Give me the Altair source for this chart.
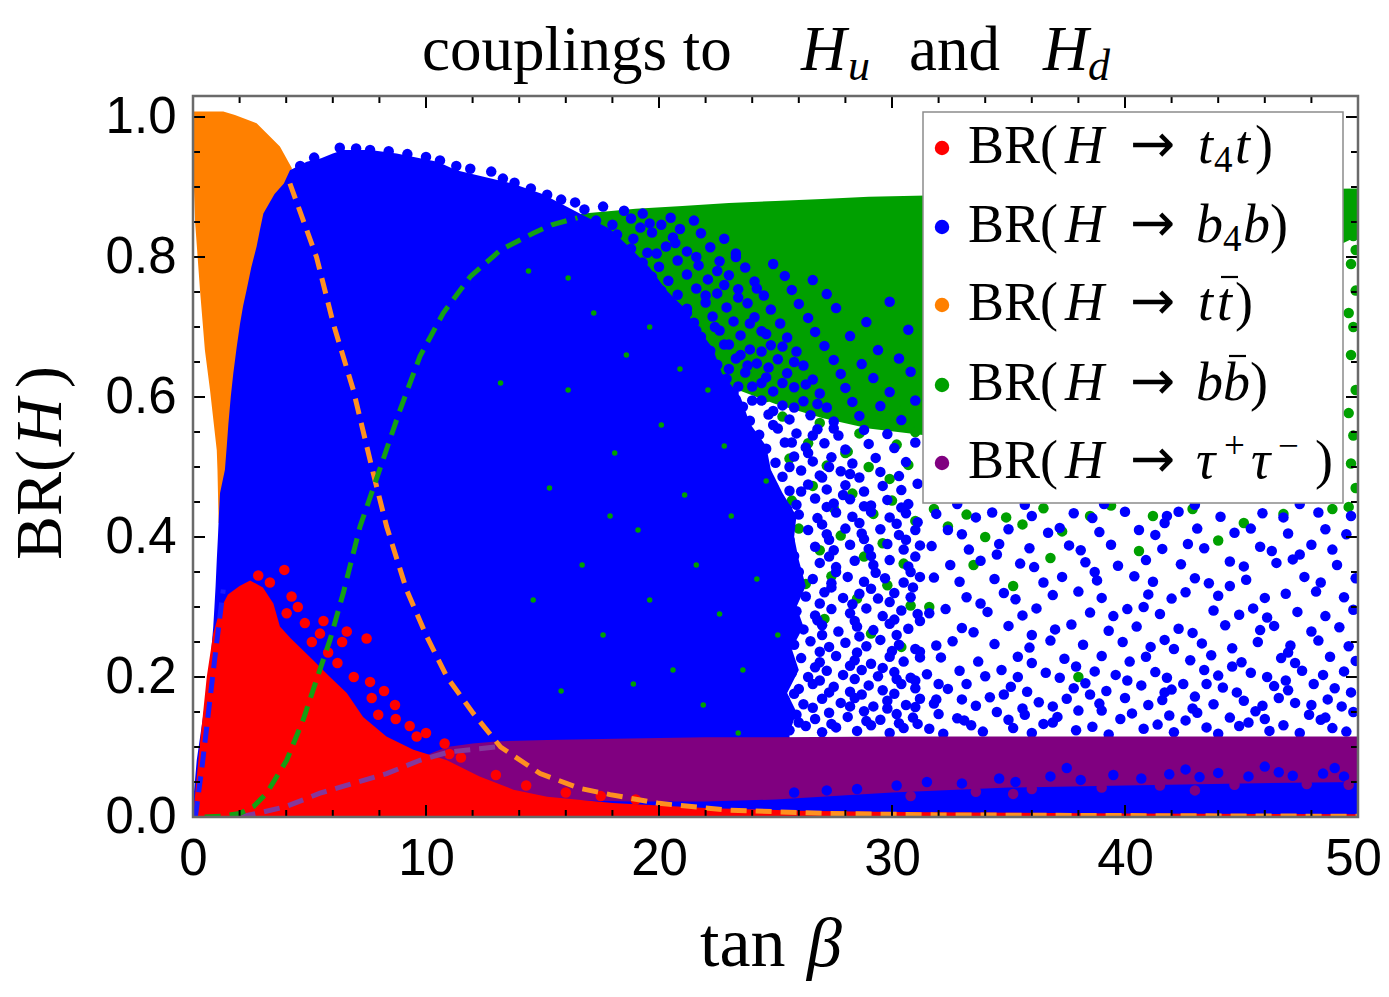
import altair as alt
import pandas as pd

# ---------------- data ----------------
orange_y  = [0.420, 0.450, 0.496, 0.524, 0.610, 0.667, 0.753, 0.850, 0.910, 0.927, 0.958, 0.991, 1.003, 1.008]
orange_xl = [1.10, 1.08, 1.05, 1.02, 0.73, 0.51, 0.30, 0.09, 0.03, 0.00, 0.00, 0.00, 0.00, 0.00]
orange_xr = [1.16, 1.30, 1.50, 1.60, 2.00, 2.20, 2.50, 3.10, 4.20, 4.24, 3.73, 2.73, 1.80, 1.30]

blue_y  = [0.000, 0.020, 0.081, 0.120, 0.150, 0.177, 0.210, 0.240, 0.272, 0.300, 0.330, 0.367, 0.400, 0.430, 0.463, 0.496, 0.530, 0.562,
           0.600, 0.634, 0.670, 0.705, 0.730, 0.753, 0.785, 0.815, 0.840, 0.862, 0.890, 0.905, 0.924, 0.936, 0.941, 0.948, 0.953]
blue_xl = [0.00, 0.00, 0.16, 0.33, 0.46, 0.59, 0.70, 0.79, 0.87, 0.92, 0.97, 1.02, 1.07, 1.11, 1.16, 1.37, 1.45, 1.52,
           1.62, 1.73, 1.87, 2.02, 2.15, 2.30, 2.50, 2.73, 2.88, 3.02, 3.50, 3.90, 4.16, 4.88, 5.50, 6.00, 6.45]
blue_xr = [25.4, 25.4, 25.6, 25.6, 25.9, 25.5, 26.0, 25.7, 26.2, 25.9, 26.3, 26.0, 25.8, 25.9, 25.3, 24.8, 24.6, 23.9,
           23.5, 22.7, 22.3, 21.5, 21.0, 20.3, 19.6, 18.7, 17.9, 16.6, 15.0, 13.7, 11.3, 10.5, 9.74, 8.74, 7.6]

green_x  = [13.5, 14.5, 15.5, 17.0, 19.0, 21.0, 23.0, 25.0, 27.0, 29.0, 31.5, 35.0, 40.0, 45.0, 50.0]
green_hi = [0.840, 0.850, 0.857, 0.863, 0.869, 0.873, 0.877, 0.880, 0.883, 0.886, 0.888, 0.891, 0.894, 0.896, 0.898]
green_lo = [0.840, 0.815, 0.790, 0.745, 0.690, 0.650, 0.615, 0.590, 0.570, 0.555, 0.545, 0.560, 0.620, 0.750, 0.830]

red_x   = [0.0, 0.3, 0.59, 0.87, 1.16, 1.5, 2.0, 2.45, 3.0, 3.45, 3.73, 4.2, 5.16, 5.88, 6.6, 7.3, 8.3, 9.46, 10.9, 12.3, 13.75, 15.2, 18.0, 22.0, 26.0, 30.0, 40.0, 50.0]
red_top = [0.0, 0.105, 0.2, 0.262, 0.296, 0.318, 0.33, 0.338, 0.328, 0.305, 0.272, 0.255, 0.224, 0.2, 0.177, 0.143, 0.115, 0.096, 0.081, 0.058, 0.039, 0.029, 0.02, 0.013, 0.009, 0.007, 0.005, 0.004]

purple_x  = [8.3, 9.0, 9.7, 10.3, 10.9, 12.0, 13.0, 15.2, 18.75, 22.0, 25.0, 30.0, 35.0, 40.0, 45.0, 50.0]
purple_hi = [0.062, 0.074, 0.083, 0.092, 0.100, 0.105, 0.108, 0.110, 0.112, 0.114, 0.114, 0.115, 0.115, 0.115, 0.115, 0.115]
purple_lo = [0.055, 0.050, 0.045, 0.040, 0.035, 0.030, 0.028, 0.025, 0.022, 0.022, 0.025, 0.035, 0.042, 0.045, 0.048, 0.050]

bstrip_x  = [19.0, 22.0, 25.0, 30.0, 35.0, 40.0, 45.0, 50.0]
bstrip_hi = [0.012, 0.020, 0.030, 0.040, 0.047, 0.052, 0.055, 0.058]
bstrip_lo = [0.003, 0.003, 0.003, 0.003, 0.003, 0.003, 0.003, 0.003]

blue_top_pts = [(4.6,0.93),(5.2,0.942),(6.3,0.956),(7.0,0.955),(7.6,0.953),(8.4,0.951),(9.2,0.947),(10.0,0.943),
                (10.6,0.938),(11.3,0.93),(11.9,0.926),(12.8,0.922),(13.3,0.912),(13.8,0.906),(14.5,0.898),(15.2,0.889),
                (15.8,0.882),(16.4,0.878)]

blue_mix_upper = [
 (25.2,0.452),(25.9,0.446),(26.7,0.455),(27.5,0.448),(28.2,0.454),(29.1,0.445),(29.8,0.453),(30.7,0.447),
 (24.9,0.472),(25.6,0.466),(26.4,0.475),(27.2,0.468),(28.0,0.474),(28.8,0.465),(29.6,0.473),(30.4,0.467),(31.1,0.476),
 (24.6,0.492),(25.3,0.486),(26.1,0.495),(26.9,0.488),(27.8,0.494),(28.6,0.485),(29.5,0.493),(30.3,0.487),
 (24.2,0.512),(25.0,0.506),(25.8,0.515),(26.6,0.508),(27.4,0.514),(28.3,0.505),(29.3,0.513),(30.6,0.507),
 (23.9,0.532),(24.6,0.526),(25.4,0.535),(26.3,0.528),(27.1,0.534),(28.0,0.525),(29.0,0.533),(30.1,0.527),(31.0,0.535),
 (23.5,0.552),(24.3,0.546),(25.1,0.555),(25.9,0.548),(26.8,0.554),(27.7,0.545),(28.8,0.553),(29.8,0.547),
 (23.2,0.572),(23.9,0.566),(24.7,0.575),(25.6,0.568),(26.5,0.574),(27.5,0.565),(28.6,0.573),(30.4,0.567),
 (22.8,0.592),(23.6,0.586),(24.4,0.595),(25.3,0.588),(26.2,0.594),(27.2,0.585),(28.3,0.593),(29.5,0.587),(31.0,0.595),
 (22.5,0.612),(23.2,0.606),(24.0,0.615),(24.9,0.608),(25.8,0.614),(26.9,0.605),(28.0,0.613),(29.9,0.607),
 (22.1,0.632),(22.9,0.626),(23.7,0.635),(24.6,0.628),(25.5,0.634),(26.6,0.625),(27.8,0.633),(29.2,0.627),(30.8,0.636),
 (21.8,0.652),(22.5,0.646),(23.3,0.655),(24.2,0.648),(25.1,0.654),(26.2,0.645),(27.5,0.653),(28.7,0.647),(30.3,0.655),
 (21.5,0.672),(22.2,0.666),(23.0,0.675),(23.9,0.668),(24.8,0.674),(25.9,0.665),(27.1,0.673),(29.4,0.667),
 (21.1,0.692),(21.8,0.686),(22.6,0.695),(23.5,0.688),(24.4,0.694),(25.5,0.685),(26.7,0.693),(28.2,0.687),(30.7,0.696),
 (20.8,0.712),(21.5,0.706),(22.3,0.715),(23.2,0.708),(24.1,0.714),(25.2,0.705),(26.4,0.713),(28.9,0.707),
 (20.5,0.732),(21.2,0.726),(22.0,0.735),(22.9,0.728),(23.8,0.734),(24.8,0.725),(26.0,0.733),(27.6,0.727),(29.9,0.736),
 (20.1,0.752),(20.8,0.746),(21.6,0.755),(22.5,0.748),(23.4,0.754),(24.5,0.745),(25.7,0.753),(27.2,0.747),
 (19.7,0.772),(20.4,0.766),(21.2,0.775),(22.1,0.768),(23.0,0.774),(24.1,0.765),(25.4,0.773),(26.6,0.767),
 (19.3,0.792),(20.0,0.786),(20.8,0.795),(21.7,0.788),(22.6,0.794),(23.7,0.785),(24.9,0.79),
 (18.8,0.812),(19.5,0.806),(20.3,0.815),(21.2,0.808),(22.2,0.814),(23.3,0.805),
 (18.2,0.832),(18.9,0.826),(19.7,0.835),(20.6,0.828),(20.9,0.84),(21.8,0.834),(22.8,0.826),
 (17.3,0.852),(18.0,0.846),(18.8,0.855),(19.6,0.848),(20.5,0.856),
 (16.8,0.868),(17.6,0.872),(18.5,0.866),(19.3,0.862)]

blue_upper_extra = [
 (21.2,0.72),(22.0,0.745),(22.8,0.76),(23.4,0.742),(24.2,0.755),(21.6,0.695),(22.4,0.7),(23.9,0.705),(24.6,0.69),
 (22.8,0.675),(23.5,0.66),(24.4,0.665),(25.3,0.672),(23.0,0.64),(23.8,0.645),(24.7,0.642),(25.8,0.65),(23.4,0.615),
 (24.4,0.62),(25.3,0.62),(26.3,0.618),(24.0,0.595),(24.9,0.58),(25.8,0.585),(26.8,0.59),(24.9,0.56),(25.7,0.535),
 (26.6,0.545),(27.5,0.555),(25.6,0.5),(26.4,0.52),(27.3,0.5),(28.2,0.49),(26.1,0.465),(27.0,0.485),(27.9,0.46),
 (19.9,0.805),(20.7,0.82),(21.6,0.8),(22.5,0.78),(23.3,0.8),(19.2,0.842),(20.1,0.846),(21.5,0.852)]

blue_mix_lower = [
 (25.6,0.124),(26.3,0.13),(27.0,0.121),(27.6,0.128),(28.5,0.123),(29.1,0.131),(29.9,0.12),(30.5,0.127),(31.1,0.133),
 (25.9,0.146),(26.7,0.14),(27.3,0.149),(28.1,0.143),(28.8,0.151),(29.5,0.139),(30.2,0.147),(30.9,0.142),
 (25.4,0.167),(26.2,0.161),(27.0,0.169),(27.8,0.163),(28.4,0.17),(29.2,0.158),(29.8,0.166),(30.6,0.16),(31.2,0.169),
 (26.0,0.183),(26.6,0.19),(27.5,0.186),(28.2,0.179),(29.0,0.188),(29.6,0.181),(30.4,0.19),(31.0,0.184),
 (25.7,0.206),(26.4,0.2),(27.2,0.209),(27.9,0.203),(28.7,0.21),(29.4,0.201),(30.1,0.207),(30.8,0.199),
 (26.1,0.227),(26.9,0.221),(27.6,0.23),(28.4,0.224),(29.1,0.219),(29.9,0.229),(30.5,0.222),(31.2,0.228),
 (25.8,0.246),(26.5,0.251),(27.3,0.243),(28.0,0.249),(28.9,0.244),(29.5,0.253),(30.3,0.246),(31.0,0.24),
 (26.2,0.268),(27.0,0.274),(27.7,0.265),(28.5,0.272),(29.2,0.267),(29.9,0.276),(30.7,0.269),
 (25.9,0.294),(26.7,0.288),(27.4,0.297),(28.2,0.291),(28.9,0.298),(29.6,0.287),(30.4,0.295),(31.1,0.29),
 (26.3,0.315),(27.1,0.321),(27.9,0.313),(28.6,0.319),(29.4,0.312),(30.1,0.32),(30.8,0.314),
 (26.6,0.34),(27.4,0.334),(28.1,0.343),(28.8,0.336),(29.7,0.341),(30.5,0.335),(31.2,0.343),
 (26.9,0.363),(27.6,0.357),(28.4,0.366),(29.2,0.36),(29.9,0.367),(30.7,0.358),
 (26.7,0.386),(27.5,0.381),(28.2,0.389),(29.0,0.383),(29.8,0.39),(30.5,0.382),(31.2,0.388),
 (26.4,0.41),(27.2,0.404),(28.0,0.412),(28.7,0.405),(29.5,0.411),(30.3,0.403),(31.0,0.41),
 (26.0,0.432),(26.8,0.427),(27.6,0.435),(28.3,0.429),(29.1,0.436),(29.9,0.428),(30.6,0.434)]

blue_lower_extra = [
 (26.0,0.135),(27.4,0.133),(28.9,0.137),(30.3,0.134),(25.3,0.155),(26.6,0.156),(28.2,0.158),(29.8,0.155),(31.0,0.157),
 (25.8,0.176),(27.3,0.178),(28.7,0.175),(30.1,0.176),(25.5,0.196),(26.9,0.195),(28.4,0.197),(30.2,0.197),(31.0,0.195),
 (25.4,0.217),(26.7,0.214),(28.2,0.216),(29.6,0.213),(25.4,0.236),(26.9,0.236),(28.5,0.235),(30.0,0.237),(31.2,0.236),
 (25.6,0.259),(27.0,0.26),(28.6,0.258),(30.2,0.26),(25.5,0.28),(26.8,0.281),(28.4,0.28),(30.1,0.282),(31.2,0.28),
 (25.4,0.305),(26.9,0.305),(28.3,0.304),(29.9,0.307),(25.9,0.327),(27.4,0.328),(29.1,0.326),(30.9,0.328),
 (26.0,0.35),(27.6,0.35),(29.3,0.349),(30.8,0.35),(25.8,0.373),(27.3,0.372),(29.1,0.373),(31.0,0.372),
 (25.6,0.396),(27.3,0.396),(28.8,0.397),(30.6,0.396),(25.6,0.42),(27.0,0.418),(28.6,0.42),(30.2,0.419),(31.1,0.421),
 (25.5,0.44),(27.2,0.443),(28.8,0.444),(30.4,0.442)]

blue_right = [
 (31.6,0.126),(32.2,0.119),(33.4,0.131),(33.9,0.122),(35.2,0.127),(36.0,0.12),(36.5,0.133),(37.9,0.124),(38.6,0.129),(39.3,0.118),
 (40.8,0.126),(41.4,0.132),(42.1,0.121),(43.5,0.128),(44.0,0.119),(44.9,0.13),(46.2,0.123),(46.8,0.131),(47.5,0.12),(48.9,0.127),(49.5,0.122),
 (32.0,0.147),(32.8,0.141),(34.5,0.15),(35.0,0.139),(35.7,0.146),(37.1,0.143),(38.0,0.152),(39.8,0.14),(40.3,0.148),(41.9,0.145),
 (42.6,0.138),(43.1,0.149),(44.5,0.142),(45.6,0.151),(46.0,0.14),(47.9,0.146),(48.4,0.139),(49.8,0.15),
 (31.8,0.162),(33.0,0.168),(33.6,0.159),(34.2,0.171),(36.3,0.164),(36.9,0.158),(37.5,0.169),(38.9,0.162),(40.0,0.17),(41.0,0.16),
 (41.6,0.167),(43.0,0.172),(43.8,0.161),(45.1,0.166),(45.9,0.159),(46.6,0.17),(47.3,0.163),(48.7,0.168),(49.3,0.158),
 (32.4,0.183),(33.2,0.19),(35.1,0.186),(35.8,0.179),(37.8,0.184),(38.3,0.191),(39.2,0.18),(40.7,0.188),(42.0,0.182),(42.5,0.19),
 (44.2,0.185),(44.8,0.178),(46.4,0.187),(47.0,0.181),(48.1,0.19),(49.0,0.184),(49.7,0.178),
 (31.5,0.204),(32.9,0.209),(34.0,0.201),(34.7,0.21),(36.6,0.206),(37.2,0.199),(38.7,0.208),(39.6,0.203),(41.3,0.207),(41.8,0.199),
 (43.4,0.21),(44.0,0.202),(45.4,0.206),(46.1,0.2),(47.6,0.209),(48.5,0.203),(49.4,0.208),
 (32.1,0.228),(33.7,0.222),(35.4,0.229),(36.0,0.22),(37.4,0.226),(39.0,0.23),(40.2,0.222),(40.9,0.229),(42.8,0.224),(43.7,0.231),
 (45.0,0.221),(46.7,0.227),(47.3,0.22),(48.8,0.229),(49.9,0.223),
 (31.9,0.245),(32.6,0.251),(34.4,0.247),(35.9,0.242),(36.8,0.252),(38.2,0.246),(39.9,0.25),(41.1,0.243),(41.7,0.253),(43.3,0.248),
 (44.6,0.241),(45.7,0.25),(47.1,0.245),(48.3,0.252),(49.6,0.244),
 (33.0,0.27),(33.5,0.264),(35.0,0.273),(37.0,0.268),(37.7,0.275),(39.3,0.266),(40.5,0.272),(42.3,0.269),(42.9,0.263),(44.3,0.274),
 (45.8,0.267),(46.4,0.273),(48.0,0.265),(49.2,0.271),
 (31.6,0.291),(32.3,0.297),(34.1,0.293),(35.6,0.288),(36.2,0.298),(38.5,0.292),(39.5,0.287),(40.1,0.297),(41.5,0.29),(43.8,0.295),
 (44.9,0.289),(45.5,0.298),(47.4,0.293),(48.6,0.287),(49.8,0.296),
 (33.2,0.314),(34.8,0.32),(35.3,0.311),(36.9,0.317),(38.0,0.322),(39.0,0.313),(41.0,0.318),(42.0,0.312),(42.6,0.321),(44.0,0.316),
 (46.0,0.313),(46.9,0.319),(48.2,0.322),(49.4,0.314),
 (31.8,0.342),(32.9,0.336),(34.4,0.34),(36.5,0.335),(37.3,0.343),(38.8,0.338),(40.4,0.344),(41.2,0.336),(43.0,0.341),(43.6,0.334),
 (45.2,0.339),(47.7,0.343),(48.4,0.335),(49.9,0.341),
 (32.5,0.36),(33.8,0.366),(35.5,0.362),(36.1,0.357),(38.3,0.364),(39.7,0.359),(40.9,0.367),(42.4,0.361),(44.5,0.365),(45.1,0.358),
 (46.5,0.363),(47.2,0.368),(49.1,0.36),
 (31.7,0.387),(33.3,0.382),(34.6,0.39),(35.9,0.384),(37.6,0.388),(38.1,0.381),(39.4,0.389),(41.6,0.383),(42.7,0.39),(43.4,0.384),
 (45.8,0.386),(46.3,0.38),(48.0,0.389),(48.9,0.382),
 (32.4,0.41),(33.0,0.404),(35.0,0.411),(36.7,0.406),(37.2,0.413),(38.9,0.407),(40.6,0.41),(41.3,0.403),(43.1,0.412),(44.7,0.406),
 (45.4,0.412),(47.0,0.405),(48.6,0.411),(49.5,0.404),
 (31.9,0.433),(33.6,0.428),(34.3,0.435),(36.0,0.43),(37.8,0.434),(38.6,0.427),(40.0,0.436),(41.8,0.43),(42.3,0.436),(44.1,0.429),
 (45.9,0.434),(46.8,0.428),(48.3,0.435),(49.7,0.43),
 (32.8,0.447),(35.7,0.446),(39.1,0.447),(43.0,0.446),(47.5,0.447)]

blue_right_extra = [
 (33.1,0.138),(36.9,0.135),(39.0,0.152),(42.9,0.155),(45.3,0.135),(48.0,0.16),(34.8,0.175),(40.1,0.195),(43.5,0.19),
 (46.9,0.195),(32.0,0.19),(37.9,0.215),(44.6,0.215),(35.6,0.155),(41.7,0.178),(48.6,0.142),(38.5,0.175),(31.9,0.168),
 (35.4,0.2),(47.0,0.235),(42.1,0.24),(36.0,0.26),(33.8,0.305),(40.8,0.3),(46.1,0.285),(38.7,0.35),(44.5,0.33),
 (34.5,0.375),(41.7,0.42),(47.5,0.375)]

blue_edge_pts = [(25.8,0.035),(27.2,0.038),(28.5,0.04),(30.2,0.045),(31.5,0.05),(33.0,0.048),(34.6,0.055),(35.3,0.05),
                 (36.8,0.058),(38.1,0.053),(39.5,0.06),(40.7,0.055),(41.9,0.061),(43.2,0.057),(44.0,0.063),(45.3,0.058),
                 (46.6,0.064),(47.2,0.059),(48.5,0.062),(49.4,0.058),(37.5,0.07),(42.6,0.068),(46.0,0.072),(49.0,0.07)]

purple_pts = [(30.8,0.03),(33.6,0.036),(35.2,0.033),(36.0,0.04),(39.0,0.042),(41.5,0.045),(43.0,0.038),(44.7,0.046),
              (47.8,0.047),(49.6,0.046)]

green_pts = [
 (24.6,0.6),(25.3,0.572),(26.1,0.603),(26.9,0.563),(27.7,0.588),(28.6,0.548),(29.4,0.562),(30.2,0.532),(31.0,0.55),
 (24.0,0.528),(25.6,0.512),(26.4,0.534),(27.2,0.502),(28.1,0.522),(29.0,0.5),(29.9,0.483),(30.7,0.503),(28.0,0.52),
 (24.9,0.47),(25.7,0.452),(26.6,0.473),(27.5,0.441),(28.3,0.462),(29.2,0.433),(30.0,0.452),(31.0,0.423),(30.4,0.58),
 (25.3,0.398),(26.0,0.412),(26.9,0.381),(27.8,0.402),(28.8,0.372),(29.6,0.391),(30.5,0.362),
 (26.3,0.333),(27.4,0.344),(28.5,0.312),(29.8,0.331),(30.8,0.302),(27.1,0.283),(29.1,0.262),(30.4,0.243),
 (49.7,0.79),(49.9,0.752),(49.6,0.72),(49.8,0.7),(49.7,0.66),(49.9,0.61),(49.6,0.577),(49.8,0.545),(49.7,0.505),
 (49.9,0.47),(49.6,0.443),(49.8,0.83),(49.9,0.81),
 (31.8,0.44),(32.4,0.415),(33.2,0.432),(34.0,0.4),(34.9,0.428),(35.6,0.418),(36.5,0.441),(37.3,0.408),(38.5,0.43),
 (39.4,0.445),(41.2,0.43),(42.9,0.44),(45.1,0.42),(46.8,0.433),(48.9,0.44),(33.5,0.36),(35.2,0.33),(31.6,0.3),
 (36.8,0.37),(38.0,0.2),(40.6,0.38),(44.0,0.395)]

green_flecks = [(14.6,0.31),(15.3,0.47),(16.1,0.61),(16.7,0.36),(17.2,0.72),(17.6,0.26),(18.1,0.52),(18.6,0.66),
                (19.1,0.41),(19.6,0.31),(20.1,0.56),(20.6,0.21),(21.1,0.46),(21.6,0.36),(22.1,0.61),(22.6,0.29),
                (23.1,0.43),(14.4,0.78),(18.9,0.19),(21.9,0.16),(16.1,0.77),(19.6,0.7),(20.9,0.64),(17.9,0.43),
                (23.6,0.21),(24.2,0.34),(24.6,0.48),(22.8,0.53),(25.1,0.26),(13.2,0.62),(15.8,0.18),(23.4,0.12)]

red_pts = [(3.92,0.353),(4.23,0.315),(4.02,0.291),(4.8,0.277),(5.45,0.262),(6.6,0.265),(7.45,0.255),(7.6,0.193),
           (7.67,0.17),(8.67,0.16),(7.95,0.146),(8.7,0.14),(10.0,0.12),(10.8,0.105),(12.0,0.05),(3.3,0.335),(2.8,0.345),
           (4.5,0.3),(5.1,0.25),(5.8,0.235),(6.2,0.22),(6.9,0.2),(8.2,0.18),(9.3,0.13),(11.5,0.085),(13.0,0.06),
           (14.3,0.045),(16.0,0.035),(17.5,0.03),(19.0,0.025),(6.4,0.25),(9.6,0.115),(11.0,0.09),(5.6,0.28)]

dash_orange_x = [4.16, 5.3, 6.02, 6.88, 7.67, 8.31, 9.17, 10.03, 10.9, 12.03, 13.2, 14.9, 16.6, 17.9, 20.0, 22.9, 27.2, 32.0, 40.0, 50.0]
dash_orange_y = [0.905, 0.8, 0.705, 0.61, 0.5, 0.415, 0.324, 0.258, 0.2, 0.148, 0.1, 0.062, 0.041, 0.032, 0.0195, 0.01, 0.005, 0.003, 0.002, 0.001]
dash_green_x = [0.5, 1.2, 2.0, 2.6, 3.16, 4.02, 4.73, 5.3, 5.88, 6.45, 7.17, 8.1, 8.88, 9.74, 10.74, 11.9, 13.2, 14.6, 15.4, 16.5]
dash_green_y = [0.0, 0.001, 0.005, 0.015, 0.034, 0.081, 0.139, 0.196, 0.253, 0.32, 0.415, 0.505, 0.581, 0.658, 0.72, 0.772, 0.81, 0.834, 0.846, 0.856]
dash_purple_x = [2.0, 2.73, 4.0, 5.45, 6.88, 8.31, 9.74, 11.0, 13.0]
dash_purple_y = [0.0, 0.005, 0.015, 0.034, 0.048, 0.062, 0.081, 0.093, 0.1]
dash_blue_x = [0.1, 0.4, 0.7, 1.0, 1.3]
dash_blue_y = [0.0, 0.075, 0.16, 0.245, 0.325]

x_major = [0, 10, 20, 30, 40, 50]
x_minor = [2, 4, 6, 8, 12, 14, 16, 18, 22, 24, 26, 28, 32, 34, 36, 38, 42, 44, 46, 48]
y_major = [0.0, 0.2, 0.4, 0.6, 0.8, 1.0]
y_minor = [0.05, 0.10, 0.15, 0.25, 0.30, 0.35, 0.45, 0.50, 0.55, 0.65, 0.70, 0.75, 0.85, 0.90, 0.95]

legend_colors = ["#FF0000", "#0000FF", "#FF8000", "#00A000", "#800080"]

# ---------------- styling ----------------
W, H = 1165, 721
SERIF = "Liberation Serif"
SANS = "Liberation Sans"
RED, BLUE, ORANGE, GREEN, PURPLE = legend_colors
DOT = 110

xs = alt.Scale(domain=[0, 50], nice=False, zero=False)
ys = alt.Scale(domain=[0, 1.03], nice=False, zero=False)

xaxis = alt.Axis(values=x_major, title=None, ticks=False, tickSize=0, domain=False, grid=False,
                 labelFont=SANS, labelFontSize=51, labelColor="black", labelPadding=17,
                 labelFlush=False, labelOverlap=False, format="d",
                 labelOffset={"condition": {"test": "datum.value == 50", "value": -5}, "value": 0})
yaxis = alt.Axis(values=y_major, title=None, ticks=False, tickSize=0, domain=False, grid=False,
                 labelFont=SANS, labelFontSize=51, labelColor="black", labelPadding=17,
                 labelFlush=False, labelOverlap=False, format=".1f")

one = pd.DataFrame({"k": [0]})


def X(f):
    return alt.X(f, scale=xs, axis=xaxis)


def Y(f):
    return alt.Y(f, scale=ys, axis=yaxis)


def harea(yv, xl, xr, color):
    df = pd.DataFrame({"y": yv, "xl": xl, "xr": xr})
    return alt.Chart(df).mark_area(orient="horizontal", color=color, opacity=1, clip=True).encode(
        y=Y("y:Q"), x=X("xl:Q"), x2="xr:Q")


def varea(xv, lo, hi, color):
    df = pd.DataFrame({"x": xv, "lo": lo, "hi": hi})
    return alt.Chart(df).mark_area(color=color, opacity=1, clip=True).encode(
        x=X("x:Q"), y=Y("hi:Q"), y2="lo:Q")


def dots(pts, color, size=DOT):
    df = pd.DataFrame(pts, columns=["x", "y"])
    return alt.Chart(df).mark_circle(size=size, color=color, opacity=1, clip=True).encode(
        x=X("x:Q"), y=Y("y:Q"))


def dashed(xv, yv, color):
    df = pd.DataFrame({"x": xv, "y": yv})
    return alt.Chart(df).mark_line(color=color, strokeWidth=5, strokeDash=[16, 9], clip=True).encode(
        x=X("x:Q"), y=Y("y:Q"))


def seg(s, x, y, size, style="normal", angle=0, font=SERIF):
    return alt.Chart(one).mark_text(text=s, font=font, fontSize=size, fontStyle=style, align="left",
                                    baseline="alphabetic", angle=angle, color="black").encode(
        x=alt.value(x), y=alt.value(y))


layers = []
layers.append(harea(orange_y, orange_xl, orange_xr, ORANGE))
layers.append(varea(green_x, green_lo, green_hi, GREEN))
layers.append(dots(green_pts, GREEN))
layers.append(harea(blue_y, blue_xl, blue_xr, BLUE))
layers.append(dots(green_flecks, GREEN, size=30))
layers.append(dots(blue_top_pts, BLUE))
layers.append(dots(blue_mix_upper, BLUE))
layers.append(dots(blue_upper_extra, BLUE))
layers.append(dots(blue_mix_lower, BLUE))
layers.append(dots(blue_lower_extra, BLUE))
layers.append(dots(blue_right, BLUE))
layers.append(dots(blue_right_extra, BLUE))
layers.append(varea(bstrip_x, bstrip_lo, bstrip_hi, BLUE))
layers.append(varea(purple_x, purple_lo, purple_hi, PURPLE))
layers.append(dots(blue_edge_pts, BLUE))
layers.append(dots(purple_pts, PURPLE))
red_df = pd.DataFrame({"x": red_x, "top": red_top})
layers.append(alt.Chart(red_df).mark_area(color=RED, opacity=1, clip=True).encode(
    x=X("x:Q"), y=Y("top:Q"), y2=alt.datum(0)))
layers.append(dots(red_pts, RED))
layers.append(dashed(dash_purple_x, dash_purple_y, "#84389C"))
layers.append(dashed(dash_orange_x, dash_orange_y, "#FF9020"))
layers.append(dashed(dash_green_x, dash_green_y, "#14A014"))
layers.append(dashed(dash_blue_x, dash_blue_y, "#1A1AFF"))

# ticks on all four sides (inward)
for vals, L in [(x_major, 12), (x_minor, 7)]:
    d = pd.DataFrame({"v": vals})
    layers.append(alt.Chart(d).mark_rule(color="black", strokeWidth=2).encode(
        x=X("v:Q"), y=alt.value(H), y2=alt.value(H - L)))
    layers.append(alt.Chart(d).mark_rule(color="black", strokeWidth=2).encode(
        x=X("v:Q"), y=alt.value(0), y2=alt.value(L)))
for vals, L in [(y_major, 12), (y_minor, 7)]:
    d = pd.DataFrame({"v": vals})
    layers.append(alt.Chart(d).mark_rule(color="black", strokeWidth=2).encode(
        y=Y("v:Q"), x=alt.value(0), x2=alt.value(L)))
    layers.append(alt.Chart(d).mark_rule(color="black", strokeWidth=2).encode(
        y=Y("v:Q"), x=alt.value(W), x2=alt.value(W - L)))

# frame
layers.append(alt.Chart(one).mark_rect(filled=False, stroke="#6a6a6a", strokeWidth=2.5).encode(
    x=alt.value(0), x2=alt.value(W), y=alt.value(0), y2=alt.value(H)))

# legend
layers.append(alt.Chart(one).mark_rect(fill="white", stroke="#8c8c8c", strokeWidth=1.5).encode(
    x=alt.value(730), x2=alt.value(1150), y=alt.value(16), y2=alt.value(407)))
marker_y = [52, 131, 209, 289, 367]
base_y = [67, 146, 224, 304, 382]
for c, my in zip(legend_colors, marker_y):
    layers.append(alt.Chart(one).mark_circle(size=210, color=c, opacity=1).encode(
        x=alt.value(749), y=alt.value(my)))
LS, SS = 54, 37
for by in base_y:
    layers.append(seg("BR(", 775, by, LS))
    layers.append(seg("H", 872, by, LS, "italic"))
    layers.append(seg("\u2192", 937, by - 1, 54, "normal", 0, "DejaVu Sans"))
legend_suffix = [
    [("t", 1005, 0, LS, "italic"), ("4", 1021, 9, SS, "normal"), ("t", 1042, 0, LS, "italic"), (")", 1062, 0, LS, "normal")],
    [("b", 1003, 0, LS, "italic"), ("4", 1030, 9, SS, "normal"), ("b", 1050, 0, LS, "italic"), (")", 1077, 0, LS, "normal")],
    [("t", 1005, 0, LS, "italic"), ("t", 1024, 0, LS, "italic"), (")", 1042, 0, LS, "normal")],
    [("b", 1003, 0, LS, "italic"), ("b", 1030, 0, LS, "italic"), (")", 1057, 0, LS, "normal")],
    [("\u03c4", 1003, 0, LS, "italic"), ("+", 1031, -20, SS, "normal"), ("\u03c4", 1058, 0, LS, "italic"),
     ("\u2212", 1085, -20, SS, "normal"), (")", 1122, 0, LS, "normal")],
]
for by, parts in zip(base_y, legend_suffix):
    for s, x, dy, size, style in parts:
        layers.append(seg(s, x, by + dy, size, style))
for x1, x2, yv in [(1028, 1045, 181), (1036, 1053, 260)]:
    layers.append(alt.Chart(one).mark_rule(color="black", strokeWidth=2.2).encode(
        x=alt.value(x1), x2=alt.value(x2), y=alt.value(yv)))

# title
for s, x, y, size, style in [("couplings to", 229, -26, 63, "normal"), ("H", 608, -26, 63, "italic"),
                             ("u", 655, -16, 44, "italic"), ("and", 716, -26, 63, "normal"),
                             ("H", 850, -26, 63, "italic"), ("d", 895, -16, 44, "italic")]:
    layers.append(seg(s, x, y, size, style))

# axis titles
layers.append(seg("tan", 507, 870, 70))
layers.append(seg("\u03b2", 614, 870, 70, "italic"))
layers.append(seg("BR(", -132, 464, 66, "normal", 270))
layers.append(seg("H", -132, 350, 66, "italic", 270))
layers.append(seg(")", -132, 292, 66, "normal", 270))

chart = alt.layer(*layers).properties(
    width=W, height=H,
    padding={"left": 185, "top": 88, "right": 23, "bottom": 172},
    autosize=alt.AutoSizeParams(type="none"),
).configure_view(strokeWidth=0)

chart.save("out.html", embed_options={"renderer": "svg", "actions": False})
